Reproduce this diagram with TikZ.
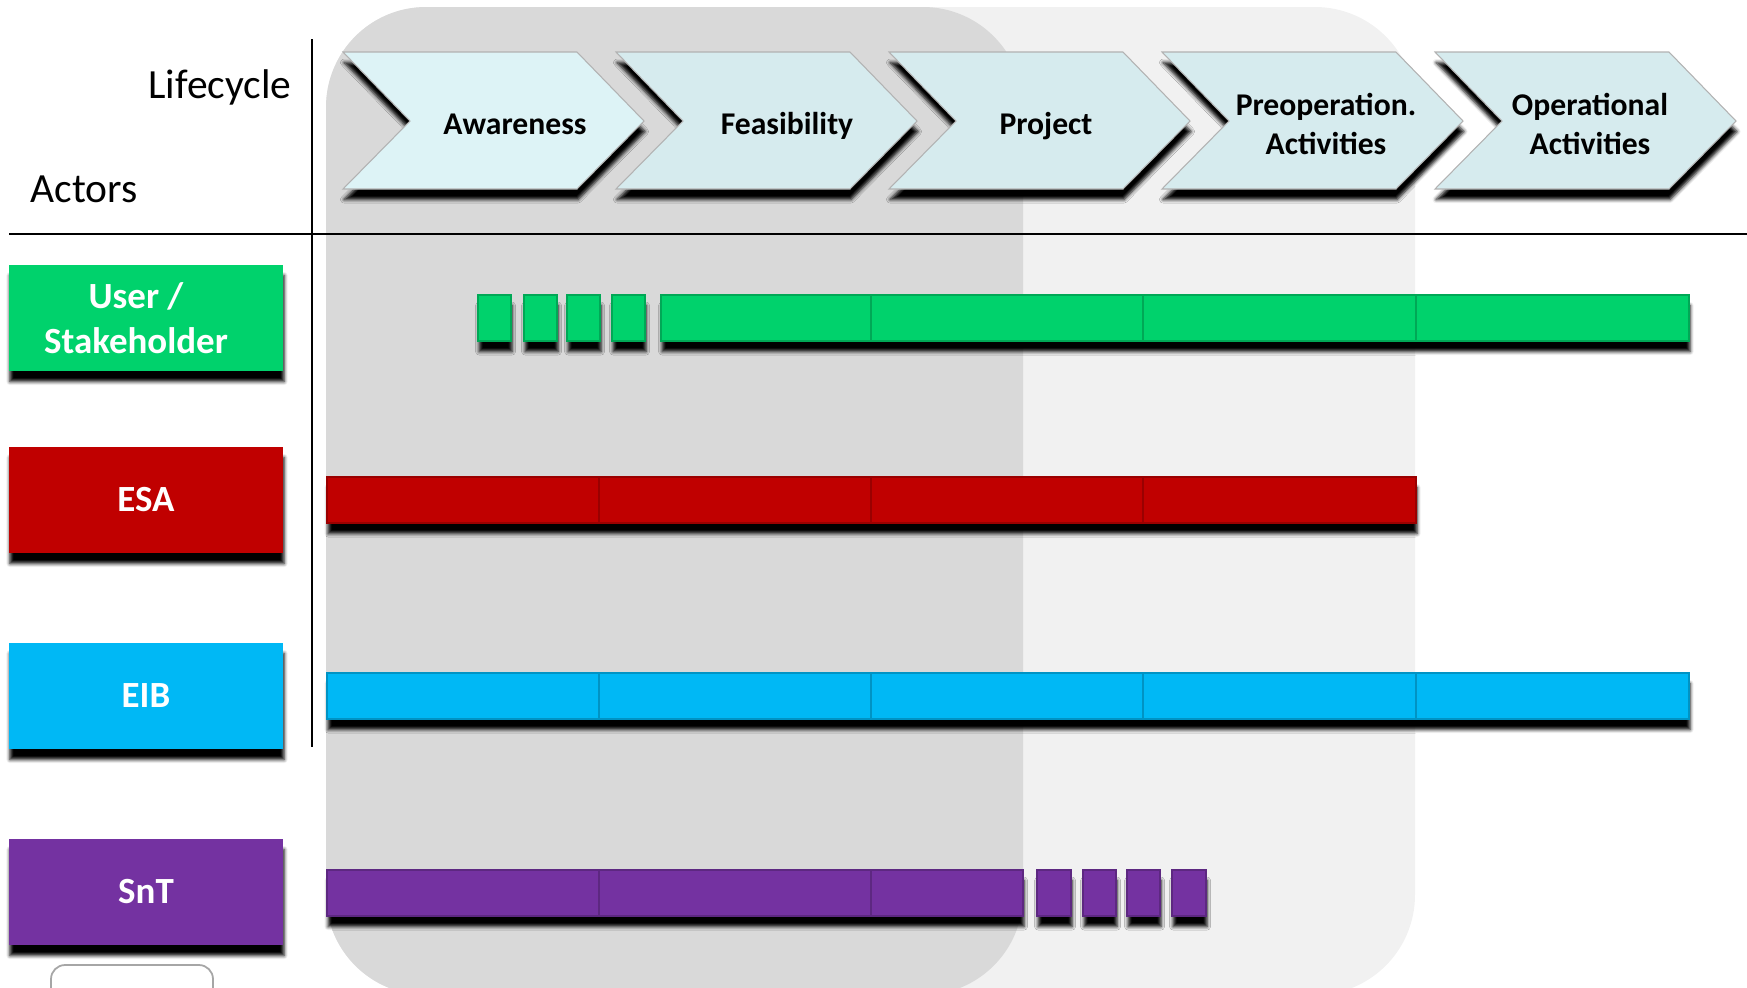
\documentclass[tikz,border=0pt]{standalone}
\usepackage{fontspec}
\setmainfont{Carlito}
\usetikzlibrary{shadows.blur}
\definecolor{cgreen}{RGB}{0,210,108}
\definecolor{cred}{RGB}{192,0,0}
\definecolor{cblue}{RGB}{0,184,245}
\definecolor{cpurple}{RGB}{116,50,161}
\definecolor{chevA}{RGB}{221,243,246}
\definecolor{chevB}{RGB}{214,235,238}
\definecolor{darkpanel}{RGB}{217,217,217}
\definecolor{lightpanel}{RGB}{241,241,241}
\begin{document}
\begin{tikzpicture}[x=0.01cm,y=-0.01cm,
  shd/.style={blur shadow={shadow xshift=0.3pt,shadow yshift=-3pt,shadow blur radius=1pt,shadow opacity=100}},
  actor/.style={shd, fill=#1, minimum width=2.74cm, minimum height=1.06cm, text=white,
    font=\fontsize{10.5}{12.7}\selectfont\bfseries, align=center, inner sep=0pt},
  atext/.style={text=white, font=\fontsize{10.5}{12.7}\selectfont\bfseries, align=center, inner sep=0pt},
  seg/.style={fill=#1, draw=#1!80!black, line width=0.3pt},
  chev/.style={shd, draw=black!30, line width=0.3pt},
  ctext/.style={font=\fontsize{9}{11.1}\selectfont\bfseries, align=center},
  head/.style={font=\fontsize{11.8}{14}\selectfont, inner sep=0pt},
  rule/.style={line width=0.7pt}
]
\useasboundingbox (0,0) rectangle (1747,987);
\clip (0,0) rectangle (1747,987);

% background panels
\fill[lightpanel, rounded corners=1cm] (326,7) rectangle (1415,995);
\fill[darkpanel, rounded corners=1cm] (326,7) rectangle (1023,995);

% separators
\coordinate (vtop) at (312,39);
\coordinate (vbot) at (312,747);
\coordinate (hl) at (9,234);
\coordinate (hr) at (1747,234);
\draw[rule] (vtop) -- (vbot);
\draw[rule] (hl) -- (hr);

% headings
\node[head, anchor=base east] (lifecycle) at (292,98) {Lifecycle};
\node[head, anchor=base west] (actors) at (30,202) {Actors};

% chevrons
\path[chev, fill=chevA] (343,52) -- (577,52) -- (644,121) -- (577,189) -- (343,189) -- (410,121) -- cycle;
\path[chev, fill=chevB] (616,52) -- (850,52) -- (917,121) -- (850,189) -- (616,189) -- (683,121) -- cycle;
\path[chev, fill=chevB] (889,52) -- (1123,52) -- (1190,121) -- (1123,189) -- (889,189) -- (956,121) -- cycle;
\path[chev, fill=chevB] (1162,52) -- (1396,52) -- (1463,121) -- (1396,189) -- (1162,189) -- (1229,121) -- cycle;
\path[chev, fill=chevB] (1435,52) -- (1669,52) -- (1736,121) -- (1669,189) -- (1435,189) -- (1502,121) -- cycle;
\node[ctext] (aw) at (515,124) {Awareness};
\node[ctext] (fe) at (787,126) {Feasibility};
\node[ctext] (pr) at (1046,126) {Project};
\node[ctext] (po) at (1326,124) {Preoperation.\\Activities};
\node[ctext] (op) at (1590,124) {Operational\\Activities};

% actors
\node[actor=cgreen] (user) at (146,318) {};
\node[atext] (usertext) at (136,318) {User /\\Stakeholder};
\node[actor=cred] (esa) at (146,500) {ESA};
\node[actor=cblue] (eib) at (146,696) {EIB};
\node[actor=cpurple] (snt) at (146,892) {SnT};

% green row
\foreach \a/\b in {478/511,524/557,567/600,612/645}
  \fill[shd, seg=cgreen] (\a,295) rectangle (\b,341);
\fill[shd, cgreen] (661,295) rectangle (1689,341);
\foreach \a/\b in {661/871,871/1143,1143/1416,1416/1689}
  \filldraw[seg=cgreen] (\a,295) rectangle (\b,341);

% red row
\fill[shd, cred] (327,477) rectangle (1416,523);
\foreach \a/\b in {327/599,599/871,871/1143,1143/1416}
  \filldraw[seg=cred] (\a,477) rectangle (\b,523);

% blue row
\fill[shd, cblue] (327,673) rectangle (1689,719);
\foreach \a/\b in {327/599,599/871,871/1143,1143/1416,1416/1689}
  \filldraw[seg=cblue] (\a,673) rectangle (\b,719);

% purple row
\fill[shd, cpurple] (327,870) rectangle (1023,916);
\foreach \a/\b in {327/599,599/871,871/1023}
  \filldraw[seg=cpurple] (\a,870) rectangle (\b,916);
\foreach \a/\b in {1037/1071,1083/1116,1127/1160,1172/1206}
  \fill[shd, seg=cpurple] (\a,870) rectangle (\b,916);

% partial box at bottom
\draw[black!35, fill=white, rounded corners=4pt, line width=0.5pt] (51,965) rectangle (213,1010);
\end{tikzpicture}
\end{document}
